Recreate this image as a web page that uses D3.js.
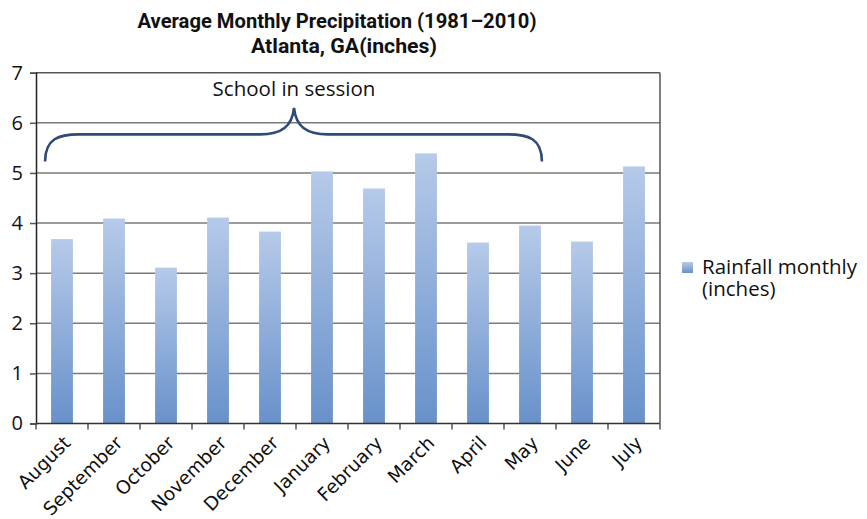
<!doctype html>
<html lang="en">
<head>
  <meta charset="utf-8">
  <title>Average Monthly Precipitation</title>
  <style>
  body { margin: 0; background: #fff; }
  svg { display: block; }
  .title { font-family: "Roboto", sans-serif; font-weight: bold; font-size: 20px; fill: #111; }
  .ytick text { font-family: "Open Sans", sans-serif; font-size: 20px; fill: #111; }
  .xtick text { font-family: "DejaVu Sans", Verdana, sans-serif; font-size: 18.6px; fill: #111; }
  .note { font-family: "Open Sans", sans-serif; font-size: 20.5px; fill: #111; }
  .legend { font-family: "Open Sans", sans-serif; font-size: 20.5px; fill: #111; }
  </style>
</head>
<body>
  <div id="chart"></div>
  <script src="https://cdn.jsdelivr.net/npm/d3@7"></script>
  <script>
    var months = ["August", "September", "October", "November", "December", "January",
                  "February", "March", "April", "May", "June", "July"];
    var rainfall = [3.68, 4.09, 3.11, 4.11, 3.83, 5.03, 4.69, 5.39, 3.61, 3.95, 3.63, 5.13];
    var yTicks = [0, 1, 2, 3, 4, 5, 6, 7];
    var titleLines = ["Average Monthly Precipitation (1981\u20132010)", "Atlanta, GA(inches)"];
    var titleWidths = [399, 186];
    var seriesName = ["Rainfall monthly", "(inches)"];
    var schoolFrom = "August", schoolTo = "May";

    (function() {
      var width = 867, height = 519;
      var left = 36, right = 660, top = 72.7, bottom = 423.5;

      var svg = d3.select("#chart").append("svg")
          .attr("width", width)
          .attr("height", height);

      var grad = svg.append("defs").append("linearGradient")
          .attr("id", "barFill")
          .attr("x1", 0).attr("y1", 0).attr("x2", 0).attr("y2", 1);
      grad.append("stop").attr("offset", "0%").attr("stop-color", "#b6cae9");
      grad.append("stop").attr("offset", "100%").attr("stop-color", "#6891ca");

      var x = d3.scaleBand().domain(months).range([left, right]).paddingInner(0.58).paddingOuter(0.29);
      var y = d3.scaleLinear().domain([0, 7]).range([bottom, top]);

      // gridlines
      svg.append("g").selectAll("line").data(yTicks.slice(1)).enter().append("line")
        .attr("x1", left).attr("x2", right)
        .attr("y1", function(d) { return y(d); })
        .attr("y2", function(d) { return y(d); })
        .attr("stroke", function(d) { return d === 7 ? "#555" : "#7a7a7a"; })
        .attr("stroke-width", 1.5);

      // right border
      svg.append("line").attr("x1", right).attr("x2", right).attr("y1", top).attr("y2", bottom)
        .attr("stroke", "#555").attr("stroke-width", 1.5);

      // bars
      svg.append("g").selectAll("rect").data(rainfall).enter().append("rect")
        .attr("x", function(d, i) { return x(months[i]); })
        .attr("width", x.bandwidth())
        .attr("y", function(d) { return y(d); })
        .attr("height", function(d) { return y(0) - y(d); })
        .attr("fill", "url(#barFill)");

      // y axis
      var yAxis = svg.append("g").attr("class", "ytick")
        .attr("transform", "translate(" + left + ",0)")
        .call(d3.axisLeft(y).tickValues(yTicks).tickSize(6).tickPadding(7).tickFormat(d3.format("d")));
      yAxis.select(".domain").attr("stroke", "#222").attr("stroke-width", 1.5);
      yAxis.selectAll(".tick line").attr("stroke", "#555").attr("stroke-width", 1.5);

      // x axis with ticks between categories
      var xb = svg.append("g").attr("class", "xtick");
      xb.append("line").attr("x1", left).attr("x2", right).attr("y1", bottom).attr("y2", bottom)
        .attr("stroke", "#333").attr("stroke-width", 1.5);
      xb.selectAll("line.t").data(d3.range(months.length + 1)).enter().append("line")
        .attr("class", "t")
        .attr("x1", function(i) { return left + i * (right - left) / months.length; })
        .attr("x2", function(i) { return left + i * (right - left) / months.length; })
        .attr("y1", bottom).attr("y2", bottom + 6)
        .attr("stroke", "#555").attr("stroke-width", 1.5);
      xb.selectAll("text").data(months).enter().append("text")
        .attr("transform", function(d) {
          var cx = x(d) + x.bandwidth() / 2;
          return "translate(" + (cx + 5) + "," + (bottom + 16) + ") rotate(-45)";
        })
        .attr("text-anchor", "end")
        .attr("dy", "0.35em")
        .text(function(d) { return d; });

      // title
      svg.selectAll("text.title").data(titleLines).enter().append("text")
        .attr("class", "title")
        .attr("x", function(d, i) { return i === 0 ? 337 : 344; })
        .attr("y", function(d, i) { return 28 + i * 25; })
        .attr("text-anchor", "middle")
        .attr("textLength", function(d, i) { return titleWidths[i]; })
        .attr("lengthAdjust", "spacingAndGlyphs")
        .text(function(d) { return d; });

      // school in session brace
      var x0 = x(schoolFrom) - 6, x1 = x(schoolTo) + x.bandwidth() + 1;
      var xm = left + (right - left) * 5 / months.length - 2;
      var yEnd = y(5.23), yMid = y(5.77), yTip = y(6.3);
      var r = 34;
      var brace = d3.path();
      brace.moveTo(x0, yEnd);
      brace.bezierCurveTo(x0, yMid + 4, x0 + 14, yMid, x0 + r, yMid);
      brace.lineTo(xm - r, yMid);
      brace.bezierCurveTo(xm - 12, yMid, xm - 2, yMid - 8, xm, yTip);
      brace.bezierCurveTo(xm + 2, yMid - 8, xm + 12, yMid, xm + r, yMid);
      brace.lineTo(x1 - r, yMid);
      brace.bezierCurveTo(x1 - 14, yMid, x1, yMid + 4, x1, yEnd);
      svg.append("path").attr("d", brace.toString())
        .attr("fill", "none").attr("stroke", "#2d4b74").attr("stroke-width", 2.6);

      svg.append("text").attr("class", "note")
        .attr("x", xm).attr("y", 96)
        .attr("text-anchor", "middle")
        .text("School in session");

      // legend: one text, wrapped onto two lines
      var lg = svg.append("g").attr("transform", "translate(682,262)");
      lg.append("rect").attr("width", 11).attr("height", 11).attr("fill", "url(#barFill)");
      lg.append("text").attr("class", "legend")
        .selectAll("tspan").data(seriesName).enter().append("tspan")
        .attr("x", 20)
        .attr("y", function(d, i) { return 12 + i * 22; })
        .text(function(d) { return d; });
    })();
  </script>
</body>
</html>
